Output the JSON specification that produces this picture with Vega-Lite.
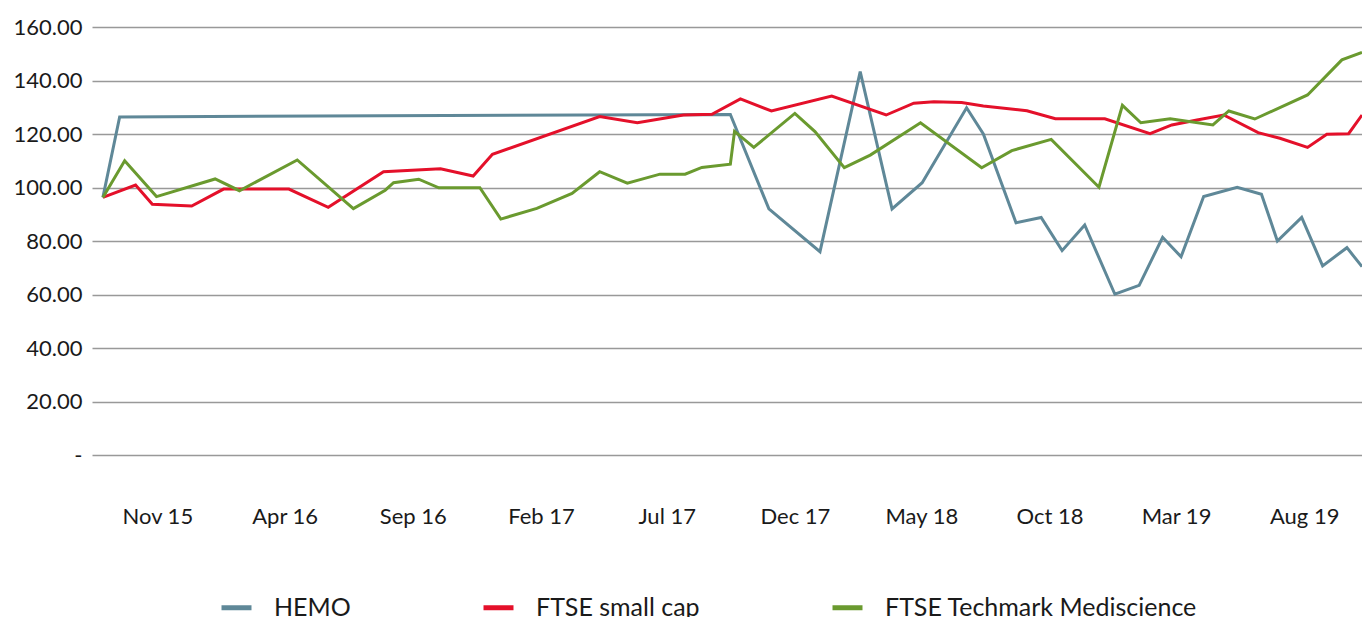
{
  "$schema": "https://vega.github.io/schema/vega-lite/v6.json",
  "width": 1270,
  "height": 428,
  "autosize": {"type": "none"},
  "padding": {"left": 92, "top": 27, "right": 0, "bottom": 162},
  "background": "white",
  "config": {
    "view": {"stroke": null},
    "font": "Lato",
    "axis": {"labelFont": "Lato", "labelColor": "#1a1a1a"},
    "legend": {"labelFont": "Lato"}
  },
  "data": {
    "values": [
      {"date": "2015-08-28", "series": "HEMO", "value": 96.3},
      {"date": "2015-09-17", "series": "HEMO", "value": 126.4},
      {"date": "2017-09-15", "series": "HEMO", "value": 127.3},
      {"date": "2017-10-31", "series": "HEMO", "value": 92.0},
      {"date": "2017-12-31", "series": "HEMO", "value": 76.0},
      {"date": "2018-02-17", "series": "HEMO", "value": 143.3},
      {"date": "2018-03-27", "series": "HEMO", "value": 92.0},
      {"date": "2018-05-02", "series": "HEMO", "value": 101.8},
      {"date": "2018-06-24", "series": "HEMO", "value": 129.8},
      {"date": "2018-07-14", "series": "HEMO", "value": 120.0},
      {"date": "2018-08-22", "series": "HEMO", "value": 86.8},
      {"date": "2018-09-21", "series": "HEMO", "value": 88.8},
      {"date": "2018-10-16", "series": "HEMO", "value": 76.4},
      {"date": "2018-11-12", "series": "HEMO", "value": 86.0},
      {"date": "2018-12-18", "series": "HEMO", "value": 60.1},
      {"date": "2019-01-16", "series": "HEMO", "value": 63.4},
      {"date": "2019-02-13", "series": "HEMO", "value": 81.4},
      {"date": "2019-03-07", "series": "HEMO", "value": 74.1},
      {"date": "2019-04-03", "series": "HEMO", "value": 96.6},
      {"date": "2019-05-13", "series": "HEMO", "value": 100.1},
      {"date": "2019-06-11", "series": "HEMO", "value": 97.5},
      {"date": "2019-06-30", "series": "HEMO", "value": 80.0},
      {"date": "2019-07-29", "series": "HEMO", "value": 88.8},
      {"date": "2019-08-23", "series": "HEMO", "value": 70.7},
      {"date": "2019-09-21", "series": "HEMO", "value": 77.5},
      {"date": "2019-10-09", "series": "HEMO", "value": 70.4},

      {"date": "2015-08-28", "series": "FTSE small cap", "value": 96.3},
      {"date": "2015-10-06", "series": "FTSE small cap", "value": 100.9},
      {"date": "2015-10-26", "series": "FTSE small cap", "value": 93.7},
      {"date": "2015-12-12", "series": "FTSE small cap", "value": 93.1},
      {"date": "2016-01-19", "series": "FTSE small cap", "value": 99.4},
      {"date": "2016-04-06", "series": "FTSE small cap", "value": 99.4},
      {"date": "2016-05-23", "series": "FTSE small cap", "value": 92.6},
      {"date": "2016-07-28", "series": "FTSE small cap", "value": 105.9},
      {"date": "2016-10-04", "series": "FTSE small cap", "value": 107.0},
      {"date": "2016-11-12", "series": "FTSE small cap", "value": 104.3},
      {"date": "2016-12-05", "series": "FTSE small cap", "value": 112.4},
      {"date": "2017-04-12", "series": "FTSE small cap", "value": 126.5},
      {"date": "2017-05-27", "series": "FTSE small cap", "value": 124.2},
      {"date": "2017-07-21", "series": "FTSE small cap", "value": 127.1},
      {"date": "2017-08-24", "series": "FTSE small cap", "value": 127.4},
      {"date": "2017-09-27", "series": "FTSE small cap", "value": 133.1},
      {"date": "2017-11-03", "series": "FTSE small cap", "value": 128.6},
      {"date": "2018-01-14", "series": "FTSE small cap", "value": 134.2},
      {"date": "2018-03-20", "series": "FTSE small cap", "value": 127.1},
      {"date": "2018-04-22", "series": "FTSE small cap", "value": 131.5},
      {"date": "2018-05-16", "series": "FTSE small cap", "value": 132.1},
      {"date": "2018-06-18", "series": "FTSE small cap", "value": 131.8},
      {"date": "2018-07-14", "series": "FTSE small cap", "value": 130.5},
      {"date": "2018-09-04", "series": "FTSE small cap", "value": 128.7},
      {"date": "2018-10-08", "series": "FTSE small cap", "value": 125.7},
      {"date": "2018-12-06", "series": "FTSE small cap", "value": 125.7},
      {"date": "2019-01-29", "series": "FTSE small cap", "value": 120.1},
      {"date": "2019-02-24", "series": "FTSE small cap", "value": 123.4},
      {"date": "2019-03-26", "series": "FTSE small cap", "value": 125.2},
      {"date": "2019-04-27", "series": "FTSE small cap", "value": 127.1},
      {"date": "2019-06-07", "series": "FTSE small cap", "value": 120.5},
      {"date": "2019-07-03", "series": "FTSE small cap", "value": 118.4},
      {"date": "2019-08-05", "series": "FTSE small cap", "value": 115.0},
      {"date": "2019-08-28", "series": "FTSE small cap", "value": 119.9},
      {"date": "2019-09-23", "series": "FTSE small cap", "value": 120.1},
      {"date": "2019-10-09", "series": "FTSE small cap", "value": 127.1},

      {"date": "2015-08-28", "series": "FTSE Techmark Mediscience", "value": 96.3},
      {"date": "2015-09-23", "series": "FTSE Techmark Mediscience", "value": 110.0},
      {"date": "2015-10-31", "series": "FTSE Techmark Mediscience", "value": 96.6},
      {"date": "2016-01-09", "series": "FTSE Techmark Mediscience", "value": 103.2},
      {"date": "2016-02-07", "series": "FTSE Techmark Mediscience", "value": 98.8},
      {"date": "2016-04-16", "series": "FTSE Techmark Mediscience", "value": 110.3},
      {"date": "2016-06-22", "series": "FTSE Techmark Mediscience", "value": 92.1},
      {"date": "2016-07-30", "series": "FTSE Techmark Mediscience", "value": 99.0},
      {"date": "2016-08-09", "series": "FTSE Techmark Mediscience", "value": 101.8},
      {"date": "2016-09-08", "series": "FTSE Techmark Mediscience", "value": 103.1},
      {"date": "2016-10-02", "series": "FTSE Techmark Mediscience", "value": 99.9},
      {"date": "2016-11-20", "series": "FTSE Techmark Mediscience", "value": 99.9},
      {"date": "2016-12-15", "series": "FTSE Techmark Mediscience", "value": 88.2},
      {"date": "2017-01-27", "series": "FTSE Techmark Mediscience", "value": 92.2},
      {"date": "2017-03-10", "series": "FTSE Techmark Mediscience", "value": 97.8},
      {"date": "2017-04-12", "series": "FTSE Techmark Mediscience", "value": 105.9},
      {"date": "2017-05-15", "series": "FTSE Techmark Mediscience", "value": 101.6},
      {"date": "2017-06-23", "series": "FTSE Techmark Mediscience", "value": 105.0},
      {"date": "2017-07-23", "series": "FTSE Techmark Mediscience", "value": 105.0},
      {"date": "2017-08-12", "series": "FTSE Techmark Mediscience", "value": 107.5},
      {"date": "2017-09-15", "series": "FTSE Techmark Mediscience", "value": 108.7},
      {"date": "2017-09-20", "series": "FTSE Techmark Mediscience", "value": 121.0},
      {"date": "2017-10-13", "series": "FTSE Techmark Mediscience", "value": 115.0},
      {"date": "2017-12-01", "series": "FTSE Techmark Mediscience", "value": 127.7},
      {"date": "2017-12-25", "series": "FTSE Techmark Mediscience", "value": 120.9},
      {"date": "2018-01-29", "series": "FTSE Techmark Mediscience", "value": 107.4},
      {"date": "2018-03-01", "series": "FTSE Techmark Mediscience", "value": 112.1},
      {"date": "2018-04-30", "series": "FTSE Techmark Mediscience", "value": 124.2},
      {"date": "2018-07-12", "series": "FTSE Techmark Mediscience", "value": 107.4},
      {"date": "2018-08-17", "series": "FTSE Techmark Mediscience", "value": 113.8},
      {"date": "2018-10-03", "series": "FTSE Techmark Mediscience", "value": 118.0},
      {"date": "2018-11-29", "series": "FTSE Techmark Mediscience", "value": 100.1},
      {"date": "2018-12-27", "series": "FTSE Techmark Mediscience", "value": 130.7},
      {"date": "2019-01-18", "series": "FTSE Techmark Mediscience", "value": 124.2},
      {"date": "2019-02-22", "series": "FTSE Techmark Mediscience", "value": 125.7},
      {"date": "2019-04-14", "series": "FTSE Techmark Mediscience", "value": 123.4},
      {"date": "2019-05-03", "series": "FTSE Techmark Mediscience", "value": 128.6},
      {"date": "2019-06-03", "series": "FTSE Techmark Mediscience", "value": 125.6},
      {"date": "2019-08-05", "series": "FTSE Techmark Mediscience", "value": 134.6},
      {"date": "2019-09-15", "series": "FTSE Techmark Mediscience", "value": 147.7},
      {"date": "2019-10-09", "series": "FTSE Techmark Mediscience", "value": 150.5}
    ]
  },
  "mark": {"type": "line", "strokeWidth": 3, "clip": true},
  "encoding": {
    "x": {
      "field": "date",
      "type": "temporal",
      "scale": {
        "type": "utc",
        "domain": [
          {"year": 2015, "month": 8, "date": 15, "utc": true},
          {"year": 2019, "month": 10, "date": 9, "utc": true}
        ]
      },
      "axis": {
        "title": null,
        "grid": false,
        "domain": false,
        "ticks": false,
        "format": "%b %y",
        "labelFontSize": 22,
        "labelPadding": 51,
        "values": [
          {"year": 2015, "month": 11, "date": 1, "utc": true},
          {"year": 2016, "month": 4, "date": 1, "utc": true},
          {"year": 2016, "month": 9, "date": 1, "utc": true},
          {"year": 2017, "month": 2, "date": 1, "utc": true},
          {"year": 2017, "month": 7, "date": 1, "utc": true},
          {"year": 2017, "month": 12, "date": 1, "utc": true},
          {"year": 2018, "month": 5, "date": 1, "utc": true},
          {"year": 2018, "month": 10, "date": 1, "utc": true},
          {"year": 2019, "month": 3, "date": 1, "utc": true},
          {"year": 2019, "month": 8, "date": 1, "utc": true}
        ]
      }
    },
    "y": {
      "field": "value",
      "type": "quantitative",
      "scale": {"domain": [0, 160], "nice": false},
      "axis": {
        "title": null,
        "domain": false,
        "ticks": false,
        "grid": true,
        "gridColor": "#999999",
        "gridWidth": 1.5,
        "values": [0, 20, 40, 60, 80, 100, 120, 140, 160],
        "labelExpr": "datum.value == 0 ? '-' : format(datum.value, '.2f')",
        "labelFontSize": 22,
        "labelPadding": 10
      }
    },
    "color": {
      "field": "series",
      "type": "nominal",
      "sort": ["HEMO", "FTSE small cap", "FTSE Techmark Mediscience"],
      "scale": {
        "domain": ["HEMO", "FTSE small cap", "FTSE Techmark Mediscience"],
        "range": ["#5F8898", "#E4102A", "#6A9A2F"]
      },
      "legend": {
        "title": null,
        "orient": "none",
        "legendX": 127,
        "legendY": 563,
        "direction": "horizontal",
        "symbolType": "stroke",
        "symbolSize": 900,
        "symbolStrokeWidth": 5,
        "labelFontSize": 25,
        "labelLimit": 0,
        "labelColor": "#1a1a1a",
        "labelOffset": 20,
        "columnPadding": 122
      }
    }
  }
}
